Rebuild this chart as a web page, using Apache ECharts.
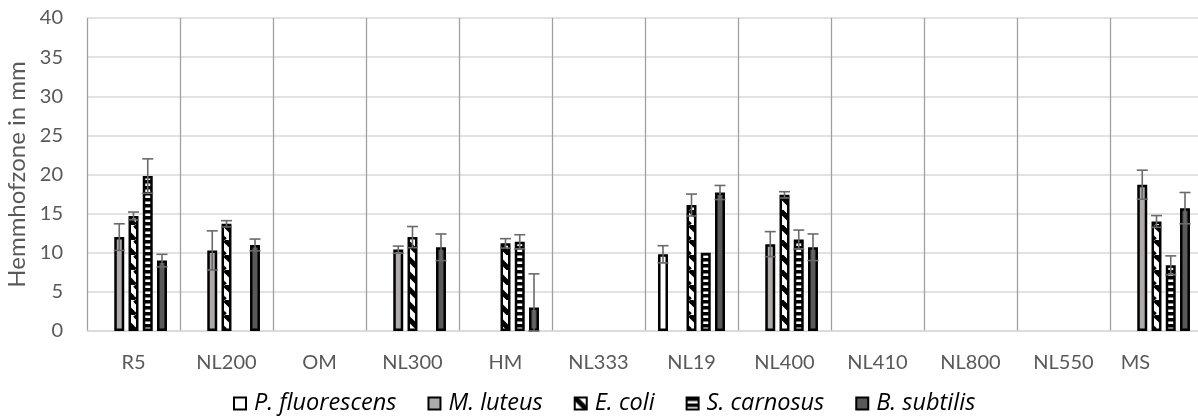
<!DOCTYPE html>
<html><head><meta charset="utf-8">
<script src="https://cdn.jsdelivr.net/npm/echarts@6/dist/echarts.min.js"></script>
<style>html,body{margin:0;padding:0;background:#fff}#c{width:1198px;height:416px}</style>
</head><body><div id="c"></div>
<script>
const categories = ['R5','NL200','OM','NL300','HM','NL333','NL19','NL400','NL410','NL800','NL550','MS'];
const seriesNames = ['P. fluorescens','M. luteus','E. coli','S. carnosus','B. subtilis'];
const pFluorescens    = [null,null,null,null,null,null,9.8,null,null,null,null,null];
const pFluorescensErr = [null,null,null,null,null,null,1.1,null,null,null,null,null];
const mLuteus    = [12.0,10.3,null,10.4,null,null,null,11.1,null,null,null,18.7];
const mLuteusErr = [1.7,2.5,null,0.45,null,null,null,1.6,null,null,null,1.85];
const eColi    = [14.7,13.7,null,12.0,11.2,null,16.1,17.4,null,null,null,14.0];
const eColiErr = [0.5,0.4,null,1.35,0.6,null,1.4,0.4,null,null,null,0.75];
const sCarnosus    = [19.8,null,null,null,11.4,null,10.0,11.7,null,null,null,8.4];
const sCarnosusErr = [2.2,null,null,null,0.9,null,0,1.2,null,null,null,1.2];
const bSubtilis    = [9.0,11.0,null,10.7,3.0,null,17.7,10.7,null,null,null,15.7];
const bSubtilisErr = [0.8,0.75,null,1.7,4.3,null,0.9,1.7,null,null,null,2.0];
const yTicks = {min:0, max:40, interval:5};

const values = [pFluorescens, mLuteus, eColi, sCarnosus, bSubtilis];
const errors = [pFluorescensErr, mLuteusErr, eColiErr, sCarnosusErr, bSubtilisErr];

function diagPattern(){
  const s=15, c=document.createElement('canvas'); c.width=s; c.height=s;
  const g=c.getContext('2d'); g.fillStyle='#fff'; g.fillRect(0,0,s,s);
  g.strokeStyle='#000'; g.lineWidth=5;
  for(const o of [-s,0,s]){ g.beginPath(); g.moveTo(o,0); g.lineTo(o+s,s); g.stroke(); }
  return c;
}
function horizPattern(){
  const c=document.createElement('canvas'); c.width=6; c.height=6;
  const g=c.getContext('2d'); g.fillStyle='#fff'; g.fillRect(0,0,6,6);
  g.fillStyle='#000'; g.fillRect(0,0,6,3.5);
  return c;
}
const fills = ['#ffffff','#aeaaaa',{image:diagPattern(),repeat:'repeat'},{image:horizPattern(),repeat:'repeat'},'#595959'];

const CAT_GAP=0.28, BAR_GAP=0.43, N=5;
function errRender(si){
  return function(params, api){
    const xi=api.value(0), v=api.value(1), e=api.value(2);
    if(v==null || isNaN(v) || !e) return null;
    const band=api.size([1,0])[0];
    const w=band*(1-CAT_GAP)/(N+(N-1)*BAR_GAP);
    const pitch=w*(1+BAR_GAP);
    const cx=api.coord([xi,v])[0]+(si-(N-1)/2)*pitch;
    const yHi=api.coord([xi,v+e])[1], yLo=api.coord([xi,Math.max(0,v-e)])[1];
    const half=5.5;
    const st={stroke:'#6a6a6a',lineWidth:1.6};
    return {type:'group',children:[
      {type:'line',shape:{x1:cx,y1:yHi,x2:cx,y2:yLo},style:st},
      {type:'line',shape:{x1:cx-half,y1:yHi,x2:cx+half,y2:yHi},style:st},
      {type:'line',shape:{x1:cx-half,y1:yLo,x2:cx+half,y2:yLo},style:st}
    ]};
  };
}

const series=[];
seriesNames.forEach((n,i)=>{
  series.push({name:n,type:'bar',data:values[i],barCategoryGap:(CAT_GAP*100)+'%',barGap:(BAR_GAP*100)+'%',
    itemStyle:{color:fills[i],borderColor:'#000',borderWidth:2.5},emphasis:{disabled:true}});
});
seriesNames.forEach((n,i)=>{
  series.push({type:'custom',name:n+' err',renderItem:errRender(i),z:5,silent:true,
    data:categories.map((c,k)=>[k,values[i][k],errors[i][k]])});
});

const FONT='Lato';
const chart=echarts.init(document.getElementById('c'),null,{renderer:'canvas'});
chart.setOption({
  animation:false,
  grid:{left:87,right:-5,top:18,bottom:85,containLabel:false,outerBoundsMode:'none'},
  legend:{data:seriesNames,top:387,left:228,icon:'rect',itemWidth:12,itemHeight:12,itemGap:31,
    textStyle:{fontFamily:'Open Sans',fontStyle:'italic',fontSize:23.5,color:'#000',padding:[0,0,0,3]}},
  xAxis:{type:'category',data:categories,
    axisLine:{show:true,lineStyle:{color:'#d9d9d9',width:1.5}},
    axisTick:{show:false},
    splitLine:{show:true,lineStyle:{color:'#a0a0a0',width:1.3}},
    axisLabel:{fontFamily:FONT,fontSize:20,color:'#595959',margin:22,interval:0,
      formatter:function(v,i){return i===categories.length-1?'{ms|'+v+'}':v;},
      rich:{ms:{fontFamily:FONT,fontSize:20,color:'#595959',padding:[0,42,0,0]}}}},
  yAxis:{type:'value',min:yTicks.min,max:yTicks.max,interval:yTicks.interval,
    name:'Hemmhofzone in mm',nameLocation:'middle',nameGap:54,
    nameTextStyle:{fontFamily:FONT,fontSize:24,color:'#595959'},
    axisLine:{show:false},axisTick:{show:false},
    axisLabel:{fontFamily:FONT,fontSize:20,color:'#595959',margin:24},
    splitLine:{lineStyle:{color:'#d9d9d9',width:1.5}}},
  series:series
});
</script></body></html>
